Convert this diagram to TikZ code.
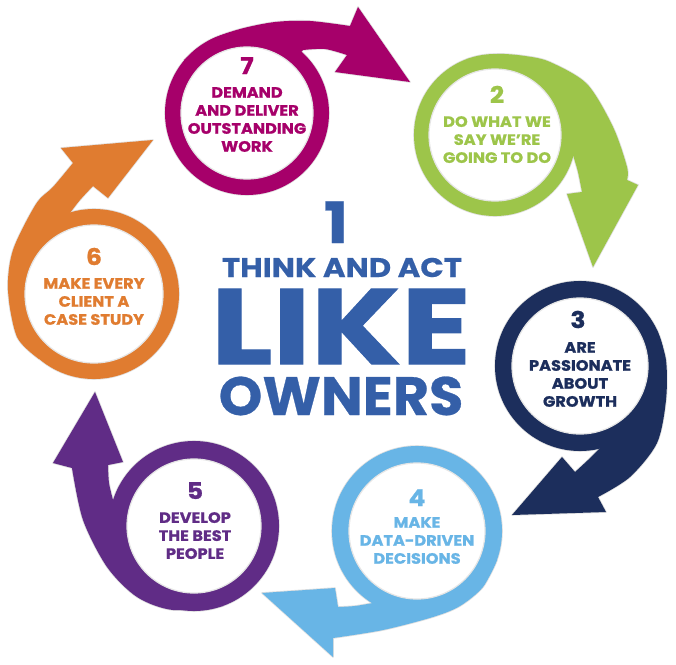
\documentclass[tikz,border=0pt]{standalone}
\usepackage{fontspec}
\setmainfont{Poppins}
\newfontfamily\ringfont{Poppins}[FakeStretch=1.08,FakeBold=1]
\newfontfamily\thinkfont{Poppins}[FakeStretch=1.14,FakeBold=0.5]
\newfontfamily\likefont{Poppins}[FakeStretch=1.21,FakeBold=1]
\newfontfamily\ownfont{Poppins}[FakeStretch=1.03,FakeBold=0.5]
\definecolor{cMag}{RGB}{166,0,106}
\definecolor{cGrn}{RGB}{157,197,74}
\definecolor{cNav}{RGB}{28,46,92}
\definecolor{cLbl}{RGB}{104,181,230}
\definecolor{cPur}{RGB}{96,44,134}
\definecolor{cOrg}{RGB}{224,124,48}
\definecolor{cBlu}{RGB}{52,95,168}
\begin{document}
\begin{tikzpicture}[x=1pt,y=-1pt,
  shadeline/.style={draw=black!12,line width=1.6pt,line join=round},
  innerdisk/.style={fill=white,draw=black!10,line width=1.2pt},
  numlabel/.style={inner sep=0pt,anchor=base,font=\ringfont\bfseries\fontsize{23}{23}\selectfont},
  ringtext/.style={inner sep=0pt,anchor=north,align=center,font=\ringfont\bfseries\fontsize{15}{18}\selectfont},
  centertext/.style={inner sep=0pt,anchor=base,text=cBlu}]
\useasboundingbox (0,0) rectangle (676,664);

% ---------- 7 magenta ----------
\coordinate (c7) at (247,113);
\path[shadeline] plot[smooth] coordinates {(184,60) (210,40) (240,29) (275,22) (310,21) (350,26)}
  -- (358,7) -- (410,82) -- (335,72) -- plot[smooth] coordinates {(347,55) (325,49) (303,50)} -- (c7) -- cycle;
\path[shadeline] (c7) circle (82);
\fill[cMag] plot[smooth] coordinates {(184,60) (210,40) (240,29) (275,22) (310,21) (350,26)}
  -- (358,7) -- (410,82) -- (335,72) -- plot[smooth] coordinates {(347,55) (325,49) (303,50)} -- (c7) -- cycle;
\fill[cMag] (c7) circle (82);
\path[innerdisk] (c7) circle (66);

% ---------- 2 green ----------
\coordinate (c2) at (495,135);
\path[shadeline] plot[smooth] coordinates {(467,59) (497,54) (525,56) (550,62) (587,84) (613,127) (627,167) (627,180)}
  -- (638,185) -- (593,267) -- (567,194) -- plot[smooth] coordinates {(582,192) (578,172) (573,155)} -- (c2) -- cycle;
\path[shadeline] (c2) circle (81);
\fill[cGrn] plot[smooth] coordinates {(467,59) (497,54) (525,56) (550,62) (587,84) (613,127) (627,167) (627,180)}
  -- (638,185) -- (593,267) -- (567,194) -- plot[smooth] coordinates {(582,192) (578,172) (573,155)} -- (c2) -- cycle;
\fill[cGrn] (c2) circle (81);
\path[innerdisk] (c2) circle (66);

% ---------- 3 navy ----------
\coordinate (c3) at (580,366);
\path[shadeline] plot[smooth] coordinates {(657,330) (666,360) (666,400) (657,443) (630,477) (598,497)}
  -- (606,512) -- (512,515) -- (562,457) -- plot[smooth] coordinates {(575,472) (588,460) (600,448)} -- (c3) -- cycle;
\path[shadeline] (c3) circle (85);
\fill[cNav] plot[smooth] coordinates {(657,330) (666,360) (666,400) (657,443) (630,477) (598,497)}
  -- (606,512) -- (512,515) -- (562,457) -- plot[smooth] coordinates {(575,472) (588,460) (600,448)} -- (c3) -- cycle;
\fill[cNav] (c3) circle (85);
\path[innerdisk] (c3) circle (68);

% ---------- 4 light blue ----------
\coordinate (c4) at (417,531);
\path[shadeline] plot[smooth] coordinates {(497,560) (483,587) (460,606) (433,617) (383,630) (333,638)}
  -- (333,657) -- (262,593) -- (335,588) -- plot[smooth] coordinates {(338,607) (355,606) (373,603)} -- (c4) -- cycle;
\path[shadeline] (c4) circle (85);
\fill[cLbl] plot[smooth] coordinates {(497,560) (483,587) (460,606) (433,617) (383,630) (333,638)}
  -- (333,657) -- (262,593) -- (335,588) -- plot[smooth] coordinates {(338,607) (355,606) (373,603)} -- (c4) -- cycle;
\fill[cLbl] (c4) circle (85);
\path[innerdisk] (c4) circle (68);

% ---------- 5 purple ----------
\coordinate (c5) at (194,526);
\path[shadeline] plot[smooth] coordinates {(223,606) (173,610) (137,597) (107,567) (83,520) (72,468)}
  -- (53,463) -- (95,392) -- (123,462) -- plot[smooth] coordinates {(108,465) (109,483) (113,500)} -- (c5) -- cycle;
\path[shadeline] (c5) circle (85);
\fill[cPur] plot[smooth] coordinates {(223,606) (173,610) (137,597) (107,567) (83,520) (72,468)}
  -- (53,463) -- (95,392) -- (123,462) -- plot[smooth] coordinates {(108,465) (109,483) (113,500)} -- (c5) -- cycle;
\fill[cPur] (c5) circle (85);
\path[innerdisk] (c5) circle (67);

% ---------- 6 orange ----------
\coordinate (c6) at (94,294);
\path[shadeline] plot[smooth] coordinates {(39,359) (17,337) (8,290) (13,250) (36,204) (53,187) (73,163)}
  -- (61,148) -- (153,140) -- (108,198) -- plot[smooth] coordinates {(93,186) (80,200) (70,213)} -- (c6) -- cycle;
\path[shadeline] (c6) circle (85);
\fill[cOrg] plot[smooth] coordinates {(39,359) (17,337) (8,290) (13,250) (36,204) (53,187) (73,163)}
  -- (61,148) -- (153,140) -- (108,198) -- plot[smooth] coordinates {(93,186) (80,200) (70,213)} -- (c6) -- cycle;
\fill[cOrg] (c6) circle (85);
\path[innerdisk] (c6) circle (69);

% ---------- ring texts ----------
\node[numlabel,text=cMag] (n7) at (247,74) {7};
\node[ringtext,text=cMag] (t7) at (247,87) {DEMAND\\AND DELIVER\\OUTSTANDING\\WORK};
\node[numlabel,text=cGrn] (n2) at (497,103) {2};
\node[ringtext,text=cGrn] (t2) at (497,116) {DO WHAT WE\\SAY WE’RE\\GOING TO DO};
\node[numlabel,text=cNav] (n3) at (578,328) {3};
\node[ringtext,text=cNav] (t3) at (580,342) {ARE\\PASSIONATE\\ABOUT\\GROWTH};
\node[numlabel,text=cLbl] (n4) at (417,506) {4};
\node[ringtext,text=cLbl] (t4) at (417,517) {MAKE\\DATA-DRIVEN\\DECISIONS};
\node[numlabel,text=cPur] (n5) at (195,499) {5};
\node[ringtext,text=cPur] (t5) at (195,512) {DEVELOP\\THE BEST\\PEOPLE};
\node[numlabel,text=cOrg] (n6) at (94,265) {6};
\node[ringtext,text=cOrg] (t6) at (94,278) {MAKE EVERY\\CLIENT A\\CASE STUDY};

% ---------- centre ----------
\node[centertext,font=\thinkfont\bfseries\fontsize{57}{57}\selectfont] (one) at (336,243) {1};
\node[centertext,font=\thinkfont\bfseries\fontsize{27}{27}\selectfont] (think) at (342,277) {THINK AND ACT};
\node[centertext,font=\likefont\bfseries\fontsize{107}{107}\selectfont] (like) at (341,364) {LIKE};
\node[centertext,font=\ownfont\bfseries\fontsize{54}{54}\selectfont] (owners) at (341,415) {OWNERS};
\end{tikzpicture}
\end{document}
